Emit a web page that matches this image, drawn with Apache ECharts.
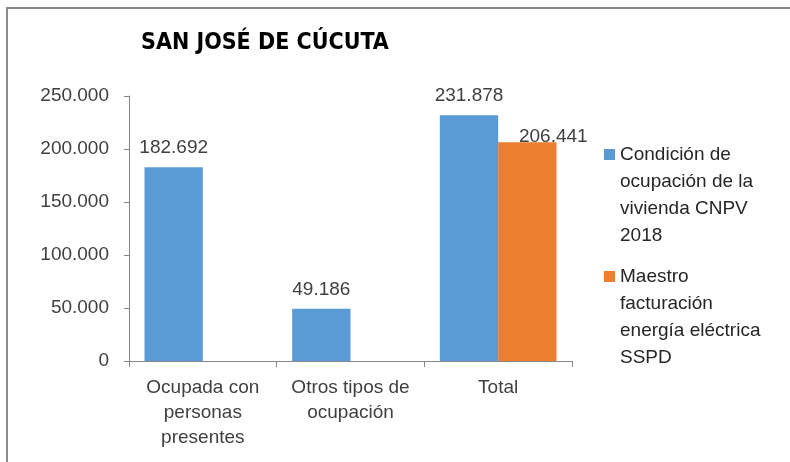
<!DOCTYPE html>
<html>
<head>
<meta charset="utf-8">
<script src="https://cdn.jsdelivr.net/npm/echarts@6/dist/echarts.min.js"></script>
<style>
  html, body { margin: 0; padding: 0; background: #fff; }
  #chart { width: 790px; height: 462px; }
</style>
</head>
<body>
<div id="chart"></div>
<script>
// datos
const categories = ['Ocupada con\npersonas\npresentes', 'Otros tipos de\nocupación', 'Total'];
const cnpv = [182692, 49186, 231878];
const sspd = [null, null, 206441];
const seriesNames = ['Condición de ocupación de la vivienda CNPV 2018', 'Maestro facturación energía eléctrica SSPD'];
const legendLines = {
    'Condición de ocupación de la vivienda CNPV 2018': 'Condición de\nocupación de la\nvivienda CNPV\n2018',
    'Maestro facturación energía eléctrica SSPD': 'Maestro\nfacturación\nenergía eléctrica\nSSPD'
};

const font = '"Liberation Sans", Arial, sans-serif';
const txt = '#404040';

function miles(v) {
    if (v == null) return '';
    return String(v).replace(/\B(?=(\d{3})+(?!\d))/g, '.');
}

const chart = echarts.init(document.getElementById('chart'));

// icono alto con el cuadrado arriba, para que quede junto a la primera línea
const legendIcon = 'path://M0,8h11v11h-11z M0,0h0.01v0.01h-0.01z M0,108h0.01v0.01h-0.01z';

const legendBase = {
    orient: 'vertical',
    left: 604,
    padding: 0,
    itemWidth: 11,
    itemHeight: 108,
    icon: legendIcon,
    formatter: name => legendLines[name],
    textStyle: {
        fontFamily: font,
        fontSize: 19,
        lineHeight: 27,
        color: '#262626'
    }
};

const option = {
    animation: false,
    backgroundColor: '#fff',
    title: {
        text: 'SAN JOSÉ DE CÚCUTA',
        left: 141,
        top: 32,
        padding: 0,
        textStyle: {
            fontFamily: '"Liberation Sans Narrow", "DejaVu Sans Condensed", "Liberation Sans", sans-serif',
            fontWeight: 'bold',
            fontSize: 23,
            color: '#000'
        }
    },
    graphic: [{
        type: 'rect',
        shape: { x: 7, y: 8, width: 900, height: 600 },
        style: { fill: 'none', stroke: '#8a8a8a', lineWidth: 2 },
        silent: true
    }],
    legend: [
        Object.assign({}, legendBase, { top: 141, data: [seriesNames[0]] }),
        Object.assign({}, legendBase, { top: 263, data: [seriesNames[1]] })
    ],
    grid: { left: 129, right: 218, top: 96, bottom: 101 },
    xAxis: {
        type: 'category',
        data: categories,
        axisLine: { lineStyle: { color: '#868686', width: 1 } },
        axisTick: { show: true, length: 6, lineStyle: { color: '#868686' } },
        axisLabel: {
            fontFamily: font,
            fontSize: 19,
            lineHeight: 25,
            color: txt,
            margin: 14,
            interval: 0
        }
    },
    yAxis: {
        type: 'value',
        min: 0,
        max: 250000,
        interval: 50000,
        splitLine: { show: false },
        axisLine: { show: true, lineStyle: { color: '#868686', width: 1 } },
        axisTick: { show: true, length: 5, lineStyle: { color: '#868686' } },
        axisLabel: {
            fontFamily: font,
            fontSize: 19,
            color: txt,
            margin: 20,
            formatter: v => miles(v)
        }
    },
    series: [
        {
            name: seriesNames[0],
            type: 'bar',
            data: cnpv,
            barGap: '0%',
            barCategoryGap: '21%',
            itemStyle: { color: '#5B9BD5' },
            label: {
                show: true,
                position: 'top',
                distance: 10,
                fontFamily: font,
                fontSize: 19,
                color: txt,
                formatter: p => miles(p.value)
            }
        },
        {
            name: seriesNames[1],
            type: 'bar',
            data: sspd,
            itemStyle: { color: '#ED7D31' },
            label: {
                show: true,
                position: 'top',
                distance: 0,
                offset: [26, 4],
                fontFamily: font,
                fontSize: 19,
                color: txt,
                formatter: p => miles(p.value)
            }
        }
    ]
};

chart.setOption(option);
</script>
</body>
</html>
